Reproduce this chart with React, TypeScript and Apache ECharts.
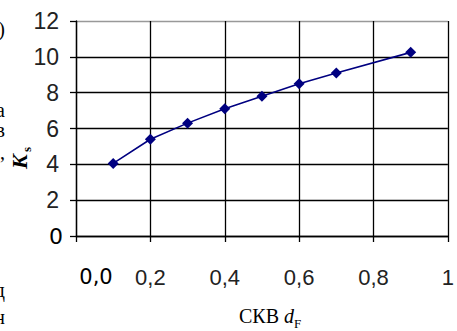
import React, { useEffect, useRef } from "react";
import * as echarts from "echarts";

const xValues = [0.1, 0.2, 0.3, 0.4, 0.5, 0.6, 0.7, 0.9];
const ksValues = [4.05, 5.4, 6.3, 7.1, 7.8, 8.5, 9.1, 10.25];
const xTickLabels = ["0,0", "0,2", "0,4", "0,6", "0,8", "1"];
const yTickLabels = ["0", "2", "4", "6", "8", "10", "12"];
const xTitleMain = "СКВ";
const xTitleVar = "d";
const xTitleSub = "F";
const yTitleMain = "K";
const yTitleSub = "s";
const pageFragments = [
  { t: ")", y: 29 },
  { t: "а", y: 110 },
  { t: "в", y: 130 },
  { t: ",", y: 152 },
  { t: "д", y: 290 },
  { t: "н", y: 317 },
];

const NARROW = '"Liberation Sans", Arial, sans-serif';
const SERIF = '"Liberation Serif", "Times New Roman", serif';

export default function App() {
  const ref = useRef<HTMLDivElement>(null);
  useEffect(() => {
    if (!ref.current) return;
    const chart = echarts.init(ref.current, null, { renderer: "svg" });
    const gridColors = ["#000", "#000", "#000", "#000", "#000", "#000", "#999"];
    chart.setOption({
      animation: false,
      backgroundColor: "#fff",
      grid: { left: 76, top: 21, right: 0, bottom: 95, containLabel: false },
      xAxis: {
        type: "value",
        min: 0,
        max: 1,
        interval: 0.2,
        axisLine: { show: true, onZero: false, lineStyle: { color: "#000", width: 1.3 } },
        axisTick: { show: true, inside: false, length: 6, lineStyle: { color: "#000", width: 1.3 } },
        splitLine: { show: true, lineStyle: { color: "#000", width: 1.3 } },
        axisLabel: {
          margin: 30,
          color: "#222",
          fontFamily: NARROW,
          fontSize: 22,
          showMaxLabel: true,
          formatter: (v: number) => {
            const i = Math.round(v / 0.2);
            const s = xTickLabels[i];
            return i === 0 ? `{z|${s}}` : `{n|${s}}`;
          },
          rich: {
            z: { fontFamily: '"DejaVu Sans", sans-serif', fontSize: 21, color: "#000", padding: [0, 0, 0, 40] },
            n: { fontFamily: NARROW, fontSize: 22, color: "#222" },
          },
        },
      },
      yAxis: {
        type: "value",
        min: 0,
        max: 12,
        interval: 2,
        axisLine: { show: true, lineStyle: { color: "#000", width: 1.3 } },
        axisTick: { show: true, inside: false, length: 6, lineStyle: { color: "#000", width: 1.3 } },
        splitLine: { show: true, lineStyle: { color: gridColors, width: 1.3 } },
        axisLabel: {
          margin: 13,
          formatter: (v: number) => {
            const i = Math.round(v / 2);
            const s = yTickLabels[i];
            return i === 0 ? `{z|${s}}` : `{n|${s}}`;
          },
          rich: {
            z: { fontFamily: '"DejaVu Sans", sans-serif', fontSize: 22, color: "#000" },
            n: { fontFamily: NARROW, fontSize: 23, color: "#222", padding: [0, 4, 0, 0] },
          },
        },
      },
      series: [
        {
          type: "line",
          data: xValues.map((x, i) => [x, ksValues[i]]),
          symbol: "diamond",
          symbolSize: 11,
          itemStyle: { color: "#000080" },
          lineStyle: { color: "#000080", width: 1.6 },
        },
      ],
      graphic: [
        ...pageFragments.map((f) => ({
          type: "text",
          x: 5,
          y: f.y,
          style: { text: f.t, font: `20px ${SERIF}`, fill: "#000", align: "right", verticalAlign: "middle" },
        })),
        {
          type: "text",
          x: 30,
          y: 169,
          rotation: Math.PI / 2,
          style: { text: yTitleMain, font: `italic bold 22px ${SERIF}`, fill: "#000", align: "left", verticalAlign: "bottom" },
        },
        {
          type: "text",
          x: 33,
          y: 152,
          rotation: Math.PI / 2,
          style: { text: yTitleSub, font: `bold 13px ${SERIF}`, fill: "#000", align: "left", verticalAlign: "bottom" },
        },
        {
          type: "text",
          x: 239,
          y: 316,
          style: { text: xTitleMain, font: `20px ${SERIF}`, fill: "#000", align: "left", verticalAlign: "middle" },
        },
        {
          type: "text",
          x: 284,
          y: 316,
          style: { text: xTitleVar, font: `italic 20px ${SERIF}`, fill: "#000", align: "left", verticalAlign: "middle" },
        },
        {
          type: "text",
          x: 294,
          y: 323,
          style: { text: xTitleSub, font: `13px ${SERIF}`, fill: "#000", align: "left", verticalAlign: "middle" },
        },
      ],
    });
    return () => chart.dispose();
  }, []);
  return (
    <div
      ref={ref}
      style={{ position: "fixed", left: 0, top: 0, width: 457, height: 331, background: "#fff" }}
    />
  );
}
